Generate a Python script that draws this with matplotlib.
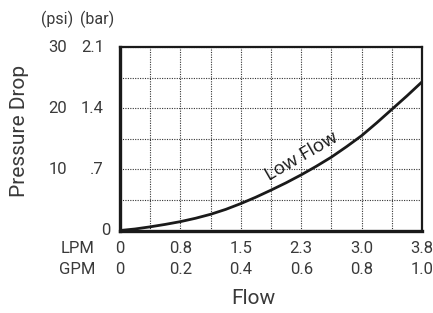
import numpy as np
import matplotlib
matplotlib.use("Agg")
import matplotlib.pyplot as plt
import matplotlib.transforms as mtransforms

# data (pressure drop in psi against flow in GPM)
gpm = [0, 0.05, 0.1, 0.15, 0.2, 0.25, 0.3, 0.35, 0.4, 0.45, 0.5,
       0.55, 0.6, 0.65, 0.7, 0.75, 0.8, 0.85, 0.9, 0.95, 1.0]
psi = [0, 0.25, 0.6, 1.0, 1.45, 2.0, 2.65, 3.45, 4.4, 5.45, 6.6,
       7.8, 9.1, 10.5, 12.0, 13.7, 15.5, 17.6, 19.8, 22.0, 24.3]

gpm_ticks = [0, 0.2, 0.4, 0.6, 0.8, 1.0]
gpm_labels = ['0', '0.2', '0.4', '0.6', '0.8', '1.0']
lpm_labels = ['0', '0.8', '1.5', '2.3', '3.0', '3.8']

psi_ticks = [10, 20, 30]
psi_labels = ['10', '20', '30']
bar_labels = ['.7', '1.4', '2.1']

plt.rcParams['font.family'] = ['Roboto', 'DejaVu Sans']
txt = '#3a3a3a'
fs = 12

W, H = 433, 313
fig = plt.figure(figsize=(W / 100, H / 100), dpi=100)
left, right, top, bottom = 120, 422, 47, 230.5
ax = fig.add_axes([left / W, 1 - bottom / H, (right - left) / W, (bottom - top) / H])

ax.plot(gpm, psi, color='#1a1a1a', lw=2, solid_capstyle='round')
ax.set_xlim(0, 1.0)
ax.set_ylim(0, 30)

ax.set_xticks(np.arange(0, 1.01, 0.1))
ax.set_yticks(np.arange(0, 30.1, 5))
ax.grid(True, color='#333333', linestyle=(0, (1, 1.2)), lw=0.8)
ax.tick_params(length=0, labelbottom=False, labelleft=False)

for s in ['top', 'right']:
    ax.spines[s].set_linewidth(1.6)
for s in ['left', 'bottom']:
    ax.spines[s].set_linewidth(2.4)
for s in ax.spines.values():
    s.set_color('#1a1a1a')

def px(x):
    return x / W

def py(y):
    return 1 - y / H

# y axis labels: psi and bar columns
ytr = mtransforms.blended_transform_factory(fig.transFigure, ax.transData)
for v, a, b in zip(psi_ticks, psi_labels, bar_labels):
    fig.text(px(67), v, a, transform=ytr, ha='right', va='center', fontsize=fs, color=txt)
    fig.text(px(104), v, b, transform=ytr, ha='right', va='center', fontsize=fs, color=txt)
fig.text(px(110), 0, '0', transform=ytr, ha='right', va='center', fontsize=fs, color=txt)
fig.text(px(57.5), py(19), '(psi)', ha='center', va='center', fontsize=11.5, color=txt)
fig.text(px(97.5), py(19), '(bar)', ha='center', va='center', fontsize=11.5, color=txt)

# x axis labels: LPM and GPM rows
xtr = mtransforms.blended_transform_factory(ax.transData, fig.transFigure)
for v, g, l in zip(gpm_ticks, gpm_labels, lpm_labels):
    fig.text(v, py(248.5), l, transform=xtr, ha='center', va='center', fontsize=fs, color=txt)
    fig.text(v, py(269), g, transform=xtr, ha='center', va='center', fontsize=fs, color=txt)
fig.text(px(95), py(248.5), 'LPM', ha='right', va='center', fontsize=fs, color=txt)
fig.text(px(95), py(269), 'GPM', ha='right', va='center', fontsize=fs, color=txt)

fig.text(px(253), py(298), 'Flow', ha='center', va='center', fontsize=15, color=txt)
fig.text(px(20), py(131), 'Pressure Drop', ha='center', va='center', rotation=90,
         fontsize=15, color=txt)

ax.text(0.6, 12.1, 'Low Flow', rotation=30, ha='center', va='center',
        fontsize=13.5, color='#1a1a1a', family=['Open Sans', 'DejaVu Sans'],
        rotation_mode='anchor')

fig.savefig('out.png', dpi=100)
